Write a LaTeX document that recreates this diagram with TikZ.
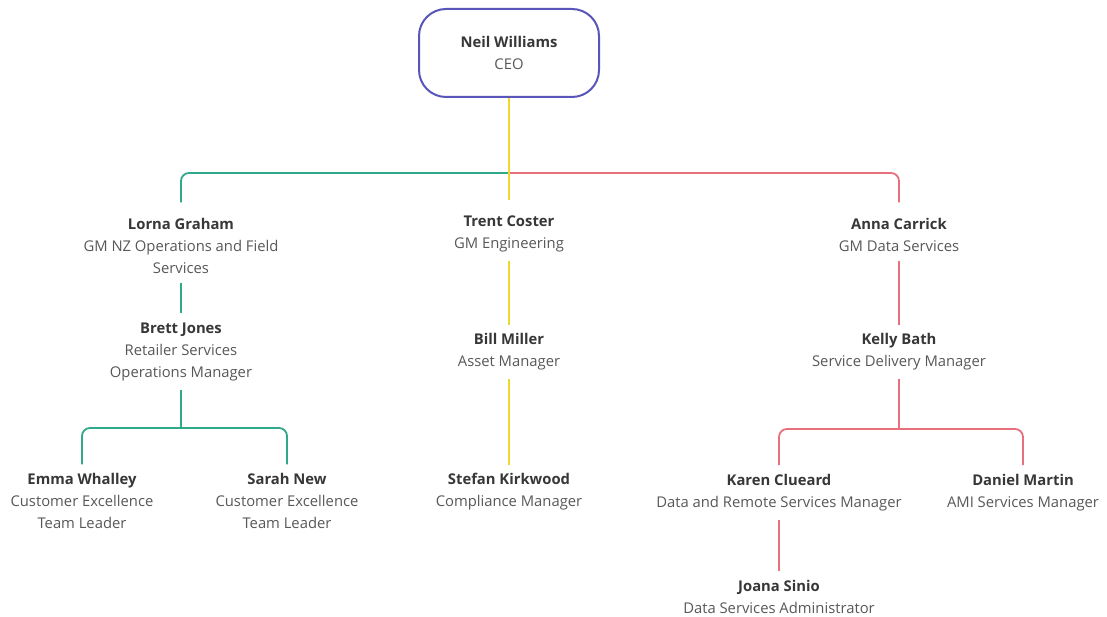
\documentclass[tikz,border=0pt]{standalone}
\usepackage{fontspec}
\setmainfont{Open Sans}
\definecolor{ceoblue}{RGB}{88,86,184}
\definecolor{lgreen}{RGB}{48,168,138}
\definecolor{lred}{RGB}{232,112,124}
\definecolor{lyellow}{RGB}{240,216,50}
\definecolor{titlegray}{RGB}{88,88,88}
\definecolor{namegray}{RGB}{55,55,55}
\newcommand{\pname}[1]{{\bfseries\color{namegray}#1}}
\begin{document}
\begin{tikzpicture}[x=1pt,y=-1pt,
  person/.style={align=center, font=\fontsize{14.8}{22}\selectfont, text=titlegray, inner sep=0pt, outer ysep=9pt},
  ceobox/.style={draw=ceoblue, line width=2pt, rounded corners=27pt, minimum width=180pt, minimum height=88pt, align=center, font=\fontsize{14.8}{22}\selectfont, text=titlegray, fill=white},
  link/.style={line width=1.8pt, rounded corners=8pt},
  grn/.style={link, draw=lgreen},
  rd/.style={link, draw=lred},
  yel/.style={link, draw=lyellow}]
\useasboundingbox[fill=white] (0,0) rectangle (1107,617);

\node[ceobox] (ceo) at (509,53) {\pname{Neil Williams}\\CEO};

\node[person] (lorna) at (181,246) {\pname{Lorna Graham}\\GM NZ Operations and Field\\Services};
\node[person] (brett) at (181,351.5) {\pname{Brett Jones}\\Retailer Services\\Operations Manager};
\node[person] (emma) at (82,501) {\pname{Emma Whalley}\\Customer Excellence\\Team Leader};
\node[person] (sarah) at (287,501) {\pname{Sarah New}\\Customer Excellence\\Team Leader};

\node[person] (trent) at (509,234) {\pname{Trent Coster}\\GM Engineering};
\node[person] (bill) at (509,352) {\pname{Bill Miller}\\Asset Manager};
\node[person] (stefan) at (509,492) {\pname{Stefan Kirkwood}\\Compliance Manager};

\node[person] (anna) at (899,235) {\pname{Anna Carrick}\\GM Data Services};
\node[person] (kelly) at (899,352) {\pname{Kelly Bath}\\Service Delivery Manager};
\node[person] (karen) at (779,492.5) {\pname{Karen Clueard}\\Data and Remote Services Manager};
\node[person] (daniel) at (1023,492.5) {\pname{Daniel Martin}\\AMI Services Manager};
\node[person] (joana) at (779,596.5) {\pname{Joana Sinio}\\Data Services Administrator};

\coordinate (j0) at (509,173);
\coordinate (j1) at (181,428);
\coordinate (j2) at (899,429);

\draw[grn] (j0) -- (j0 -| lorna.north) -- ([yshift=7pt]lorna.north);
\draw[rd] (j0) -- (j0 -| anna.north) -- ([yshift=7pt]anna.north);
\draw[grn] (lorna.south) -- (brett.north);
\draw[grn] (brett.south) -- (j1);
\draw[grn] (j1) -- (j1 -| emma.north) -- (emma.north);
\draw[grn] (j1) -- (j1 -| sarah.north) -- (sarah.north);

\draw[rd] (anna.south) -- (kelly.north);
\draw[rd] (kelly.south) -- (j2);
\draw[rd] (j2) -- (j2 -| karen.north) -- (karen.north);
\draw[rd] (j2) -- (j2 -| daniel.north) -- (daniel.north);
\draw[rd] (karen.south) -- (joana.north);

\draw[yel] (ceo.south) -- ([yshift=7pt]trent.north);
\draw[yel] (trent.south) -- (bill.north);
\draw[yel] (bill.south) -- (stefan.north);
\end{tikzpicture}
\end{document}
